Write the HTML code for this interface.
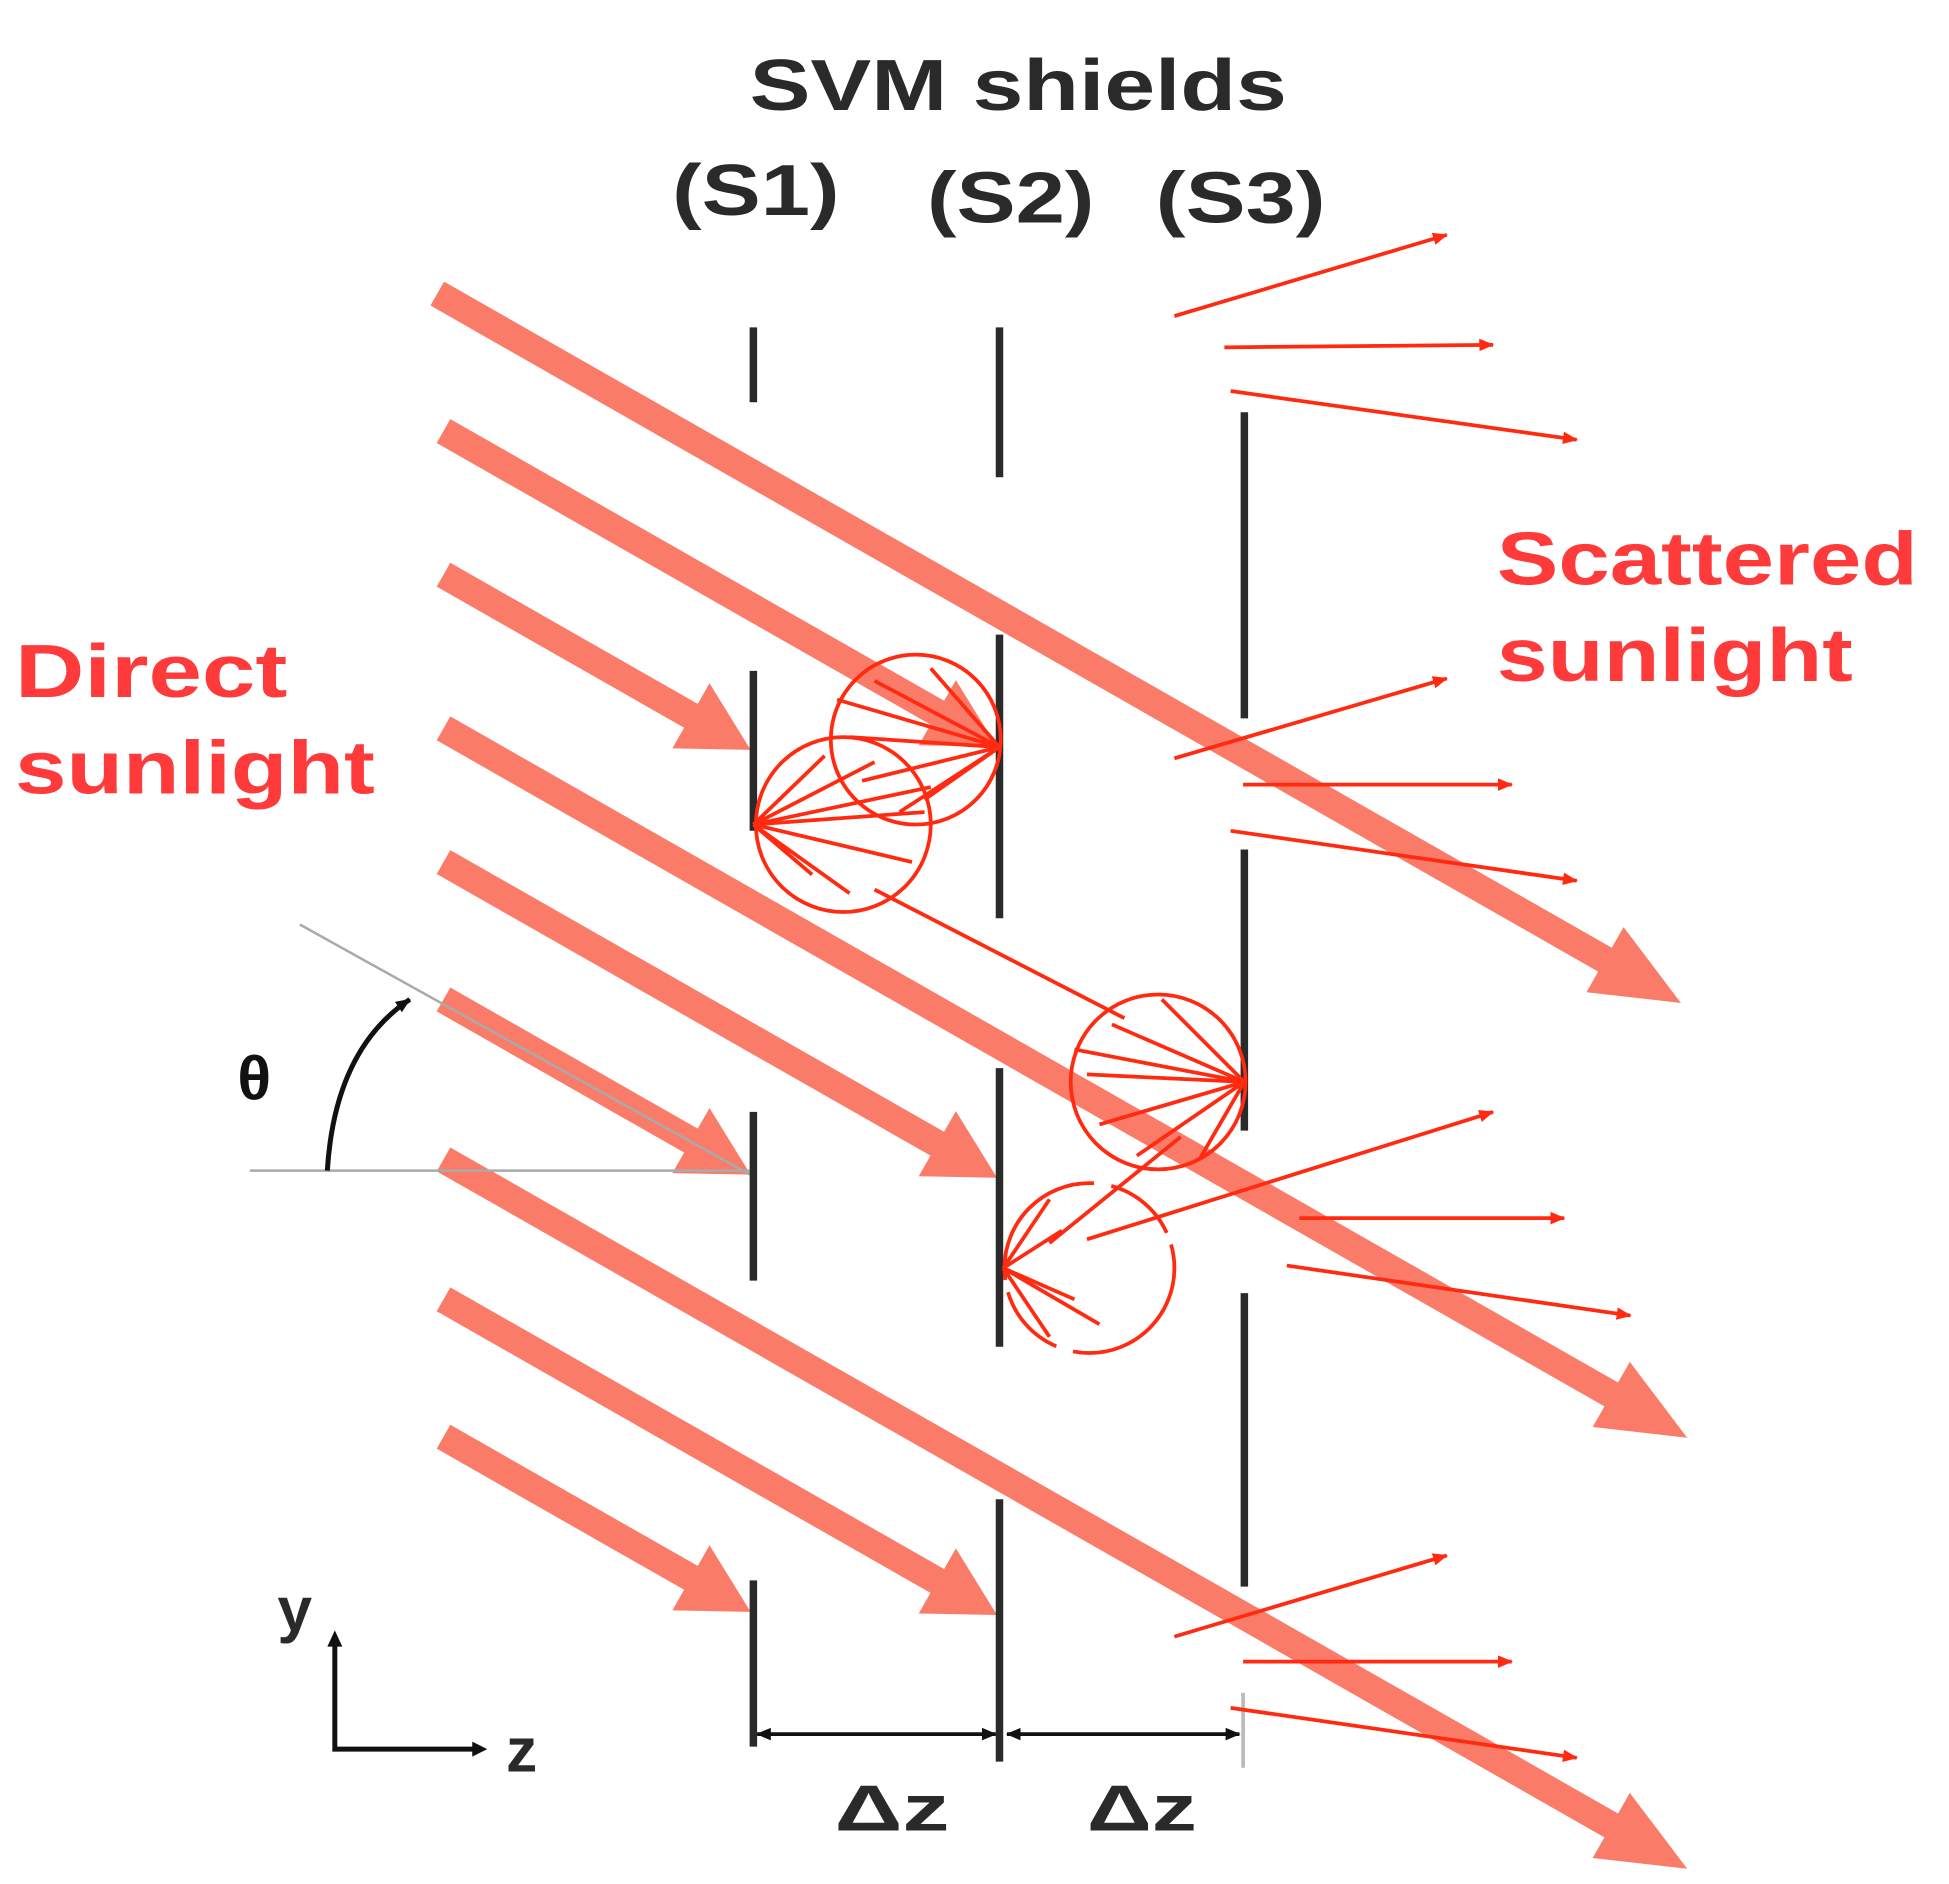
<!DOCTYPE html>
<html><head><style>html,body{margin:0;padding:0;background:#fff}svg{display:block}</style></head>
<body>
<svg width="1949" height="1884" viewBox="0 0 1560 1508" preserveAspectRatio="none" xmlns="http://www.w3.org/2000/svg">
<defs>
<marker id="ha" markerWidth="12" markerHeight="10" refX="11" refY="5" orient="auto" markerUnits="userSpaceOnUse"><path d="M0,0 L12,5 L0,10 Z" fill="#ff2a10"/></marker>
<marker id="hk" markerWidth="12" markerHeight="10" refX="11" refY="5" orient="auto" markerUnits="userSpaceOnUse"><path d="M0,0 L12,5 L0,10 Z" fill="#111"/></marker>
<marker id="hk2" markerWidth="12" markerHeight="10" refX="1" refY="5" orient="auto" markerUnits="userSpaceOnUse"><path d="M12,0 L0,5 L12,10 Z" fill="#111"/></marker>
</defs>
<g fill="#fa7b68" stroke="none">
<polygon points="0,-11 1076,-11 1076,-30 1146,0 1076,30 1076,11 0,11" transform="translate(350,235) rotate(29.7)"/>
<polygon points="0,-11 1076,-11 1076,-30 1146,0 1076,30 1076,11 0,11" transform="translate(355,583) rotate(29.7)"/>
<polygon points="0,-11 1076,-11 1076,-30 1146,0 1076,30 1076,11 0,11" transform="translate(355,928) rotate(29.7)"/>
<polygon points="0,-11 455,-11 455,-30 510,0 455,30 455,11 0,11" transform="translate(355,345) rotate(29.7)"/>
<polygon points="0,-11 228,-11 228,-30 283,0 228,30 228,11 0,11" transform="translate(355,460) rotate(29.7)"/>
<polygon points="0,-11 455,-11 455,-30 510,0 455,30 455,11 0,11" transform="translate(355,690) rotate(29.7)"/>
<polygon points="0,-11 228,-11 228,-30 283,0 228,30 228,11 0,11" transform="translate(355,800) rotate(29.7)"/>
<polygon points="0,-11 455,-11 455,-30 510,0 455,30 455,11 0,11" transform="translate(355,1040) rotate(29.7)"/>
<polygon points="0,-11 228,-11 228,-30 283,0 228,30 228,11 0,11" transform="translate(355,1150) rotate(29.7)"/>
</g>
<line x1="240" y1="740" x2="600" y2="940" stroke="#aaa" stroke-width="2"/>
<line x1="200" y1="937" x2="600" y2="937" stroke="#aaa" stroke-width="2"/>
<path d="M262,937 Q268,840 328,800" fill="none" stroke="#111" stroke-width="4" marker-end="url(#hk)"/>
<text x="190" y="880" font-family="Liberation Sans, sans-serif" font-weight="bold" font-size="50" fill="#111">θ</text>
<g stroke="#2a2a2a" stroke-width="6">
<line x1="603" y1="262" x2="603" y2="322"/><line x1="603" y1="537" x2="603" y2="665"/><line x1="603" y1="890" x2="603" y2="1025"/><line x1="603" y1="1265" x2="603" y2="1398"/>
<line x1="800" y1="262" x2="800" y2="382"/><line x1="800" y1="508" x2="800" y2="735"/><line x1="800" y1="855" x2="800" y2="1078"/><line x1="800" y1="1200" x2="800" y2="1410"/>
<line x1="996" y1="330" x2="996" y2="575"/><line x1="996" y1="680" x2="996" y2="905"/><line x1="996" y1="1035" x2="996" y2="1270"/>
</g>
<line x1="995" y1="1355" x2="995" y2="1415" stroke="#bbb" stroke-width="3"/>
<g stroke="#111" stroke-width="3">
<line x1="606" y1="1388" x2="797" y2="1388" marker-start="url(#hk2)" marker-end="url(#hk)"/>
<line x1="806" y1="1388" x2="992" y2="1388" marker-start="url(#hk2)" marker-end="url(#hk)"/>
</g>
<g fill="none" stroke="#ff2a10" stroke-width="3">
<circle cx="733" cy="592" r="68"/>
<circle cx="675" cy="660" r="70"/>
<circle cx="927" cy="866" r="70"/>
<circle cx="872" cy="1015" r="68" stroke-dasharray="120 14 60 10"/>
<path d="M800,598 L670,560 M800,598 L680,590 M800,598 L690,625 M800,598 L720,650 M800,598 L745,535 M800,598 L700,545 M800,598 L740,640"/>
<path d="M603,660 L700,610 M603,660 L740,650 M603,660 L730,690 M603,660 L680,715 M603,660 L650,700 M603,660 L660,605 M603,660 L745,630"/>
<path d="M996,866 L870,860 M996,866 L890,820 M996,866 L930,800 M996,866 L880,900 M996,866 L910,925 M996,866 L960,928 M996,866 L860,840"/>
<path d="M803,1015 L840,960 M803,1015 L850,985 M803,1015 L860,1040 M803,1015 L880,1060 M803,1015 L840,1070"/>
<line x1="700" y1="712" x2="900" y2="815"/>
<line x1="945" y1="910" x2="840" y2="995"/>
</g>
<g stroke="#ff2a10" stroke-width="3" marker-end="url(#ha)">
<line x1="940" y1="253" x2="1158" y2="188"/><line x1="980" y1="278" x2="1195" y2="276"/><line x1="985" y1="313" x2="1262" y2="352"/>
<line x1="940" y1="607" x2="1158" y2="543"/><line x1="995" y1="628" x2="1210" y2="628"/><line x1="985" y1="665" x2="1262" y2="705"/>
<line x1="870" y1="992" x2="1195" y2="890"/><line x1="1040" y1="975" x2="1252" y2="975"/><line x1="1030" y1="1013" x2="1305" y2="1053"/>
<line x1="940" y1="1310" x2="1158" y2="1245"/><line x1="995" y1="1330" x2="1210" y2="1330"/><line x1="985" y1="1367" x2="1262" y2="1407"/>
</g>
<polyline points="268,1312 268,1400 385,1400" stroke="#111" stroke-width="4" fill="none"/>
<path d="M262,1318 L268,1305 L274,1318 Z M378,1394 L390,1400 L378,1406 Z" fill="#111"/>
<g font-family="Liberation Sans, sans-serif" font-weight="bold" fill="#2a2a2a">
<text x="222" y="1305" font-size="50">y</text>
<text x="405" y="1418" font-size="50">z</text>
<text x="668" y="1465" font-size="52" textLength="92" lengthAdjust="spacingAndGlyphs">Δz</text>
<text x="870" y="1465" font-size="52" textLength="88" lengthAdjust="spacingAndGlyphs">Δz</text>
<text x="600" y="88" font-size="58" textLength="430" lengthAdjust="spacingAndGlyphs">SVM shields</text>
<text x="538" y="172" font-size="58" textLength="134" lengthAdjust="spacingAndGlyphs">(S1)</text>
<text x="742" y="178" font-size="58" textLength="134" lengthAdjust="spacingAndGlyphs">(S2)</text>
<text x="925" y="178" font-size="58" textLength="136" lengthAdjust="spacingAndGlyphs">(S3)</text>
</g>
<g font-family="Liberation Sans, sans-serif" font-weight="bold" font-size="60" fill="#ff3a3a">
<text x="12" y="558" textLength="218" lengthAdjust="spacingAndGlyphs">Direct</text>
<text x="12" y="635" textLength="288" lengthAdjust="spacingAndGlyphs">sunlight</text>
<text x="1198" y="468" textLength="337" lengthAdjust="spacingAndGlyphs">Scattered</text>
<text x="1198" y="545" textLength="285" lengthAdjust="spacingAndGlyphs">sunlight</text>
</g>
</svg>
</body></html>
